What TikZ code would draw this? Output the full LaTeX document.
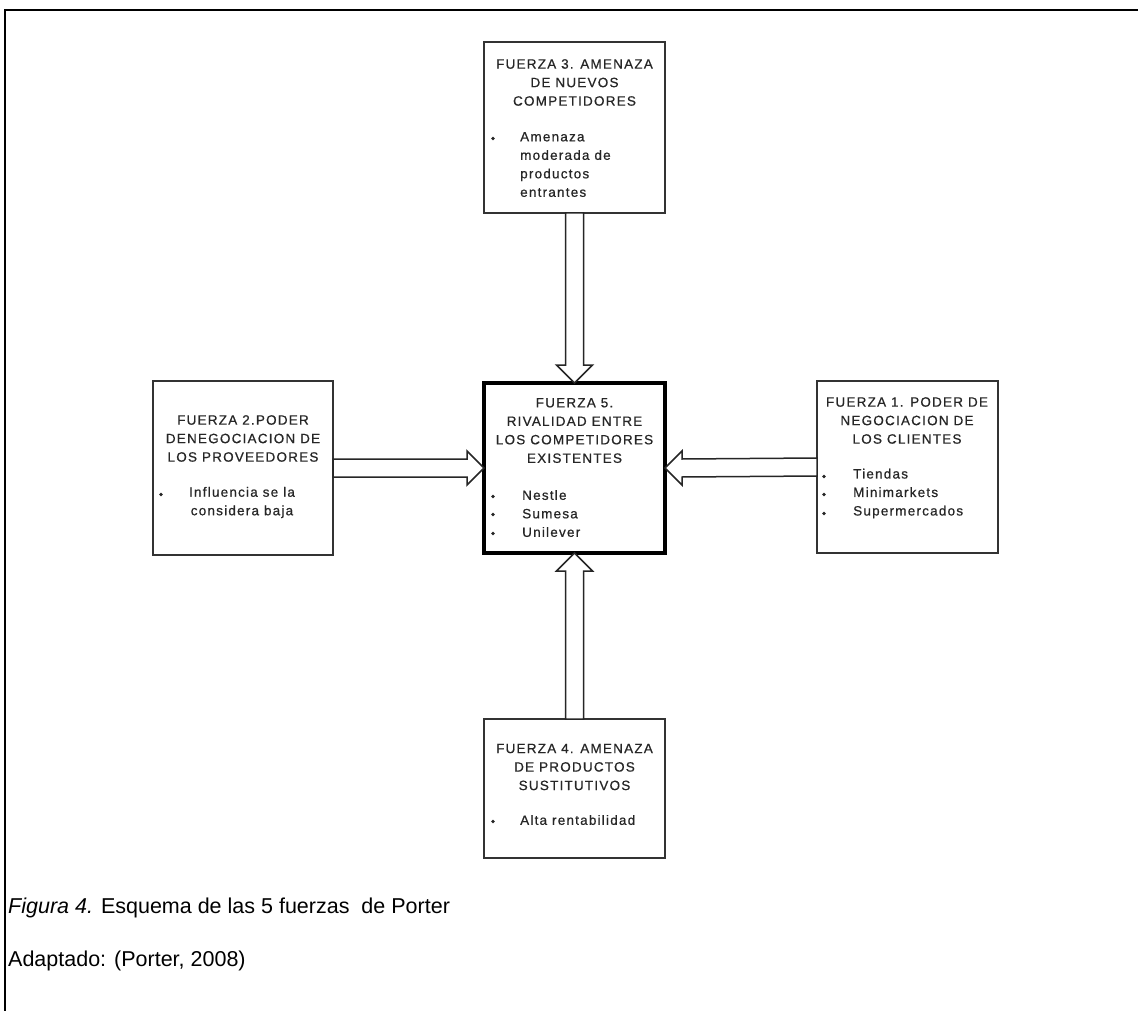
\documentclass[tikz,border=0pt]{standalone}
\usepackage{fontspec}
\setmainfont{Liberation Sans}
\newfontfamily\boxfont[LetterSpace=9,FakeBold=0.6]{Liberation Sans}
\usetikzlibrary{calc}
\begin{document}
\begin{tikzpicture}[x=1pt,y=-1pt,
  forcebox/.style={draw=black!80, line width=1.6pt, inner sep=0pt, outer sep=0pt, anchor=north west},
  mainbox/.style={forcebox, draw=black, line width=3.2pt},
  boxtitle/.style={font=\boxfont\fontsize{13.5}{18.5}\selectfont, text=black!85, align=center, inner sep=0pt},
  boxlist/.style={font=\boxfont\fontsize{13.5}{18.5}\selectfont, text=black!85, align=left, inner sep=0pt, anchor=west},
  dot/.style={circle, fill=black!85, inner sep=0pt, minimum size=3.6pt, yshift=-1.5pt},
  blockarrow/.style={draw=black!85, line width=1.5pt, fill=white, line join=miter},
  caption/.style={font=\fontsize{21.5}{21.5}\selectfont, inner sep=0pt, anchor=base west}
]
\useasboundingbox (0,0) rectangle (1138,1011);
\fill[white] (0,0) rectangle (1138,1011);

% frame
\coordinate (ftl) at (5,10);
\coordinate (ftr) at (1138,10);
\coordinate (fbl) at (5,1011);
\draw[line width=2.2pt] (ftr) -- (ftl) -- (fbl);

% the five boxes
\node[forcebox, minimum width=181pt, minimum height=171pt] (f3) at (484,42) {};
\node[forcebox, minimum width=180pt, minimum height=174pt] (f2) at (153,381) {};
\node[mainbox,  minimum width=181pt, minimum height=170pt] (f5) at (484,383) {};
\node[forcebox, minimum width=181pt, minimum height=172pt] (f1) at (817,381) {};
\node[forcebox, minimum width=181pt, minimum height=139pt] (f4) at (484,719) {};

% Fuerza 3
\node[boxtitle] (f3title) at (574.5,82.5) {FUERZA 3. AMENAZA\\DE NUEVOS\\COMPETIDORES};
\node[dot] (f3d1) at (493,137) {};
\node[boxlist] (f3list) at (520,164.5) {Amenaza\\moderada de\\productos\\entrantes};

% Fuerza 2
\node[boxtitle] (f2title) at (243,438.5) {FUERZA 2.PODER\\DENEGOCIACION DE\\LOS PROVEEDORES};
\node[dot] (f2d1) at (161,493) {};
\node[boxtitle] (f2list) at (242,502.5) {Influencia se la\\considera baja};

% Fuerza 5
\node[boxtitle] (f5title) at (574.5,430.5) {FUERZA 5.\\RIVALIDAD ENTRE\\LOS COMPETIDORES\\EXISTENTES};
\node[dot] (f5d1) at (493,495) {};
\node[dot] (f5d2) at (493,513) {};
\node[dot] (f5d3) at (493,532) {};
\node[boxlist] (f5list) at (522,513.5) {Nestle\\Sumesa\\Unilever};

% Fuerza 1
\node[boxtitle] (f1title) at (907,420.5) {FUERZA 1. PODER DE\\NEGOCIACION DE\\LOS CLIENTES};
\node[dot] (f1d1) at (824,475) {};
\node[dot] (f1d2) at (824,493) {};
\node[dot] (f1d3) at (824,512) {};
\node[boxlist] (f1list) at (853,493.5) {Tiendas\\Minimarkets\\Supermercados};

% Fuerza 4
\node[boxtitle] (f4title) at (574.5,767) {FUERZA 4. AMENAZA\\DE PRODUCTOS\\SUSTITUTIVOS};
\node[dot] (f4d1) at (493,820) {};
\node[boxlist] (f4list) at (520,820) {Alta rentabilidad};

% block arrows into the central box
\draw[blockarrow]
  ($(f3.south)+(-9,0)$) -- ($(f5.north)+(-9,-18)$) -- ($(f5.north)+(-18,-18)$) -- (f5.north)
  -- ($(f5.north)+(18,-18)$) -- ($(f5.north)+(9,-18)$) -- ($(f3.south)+(9,0)$) -- cycle;
\draw[blockarrow]
  ($(f2.east)+(0,-9)$) -- ($(f5.west)+(-17,-9)$) -- ($(f5.west)+(-17,-17)$) -- (f5.west)
  -- ($(f5.west)+(-17,17)$) -- ($(f5.west)+(-17,9)$) -- ($(f2.east)+(0,9)$) -- cycle;
\draw[blockarrow]
  ($(f1.west)+(0,-9)$) -- ($(f5.east)+(17,-9)$) -- ($(f5.east)+(17,-17)$) -- (f5.east)
  -- ($(f5.east)+(17,17)$) -- ($(f5.east)+(17,9)$) -- ($(f1.west)+(0,9)$) -- cycle;
\draw[blockarrow]
  ($(f4.north)+(-9,0)$) -- ($(f5.south)+(-9,18)$) -- ($(f5.south)+(-18,18)$) -- (f5.south)
  -- ($(f5.south)+(18,18)$) -- ($(f5.south)+(9,18)$) -- ($(f4.north)+(9,0)$) -- cycle;

% caption
\node[caption] (cap1) at (8,913) {\textit{Figura 4.} Esquema de las 5 fuerzas\ \ de Porter};
\node[caption] (cap2) at (8,966) {Adaptado: (Porter, 2008)};
\end{tikzpicture}
\end{document}
